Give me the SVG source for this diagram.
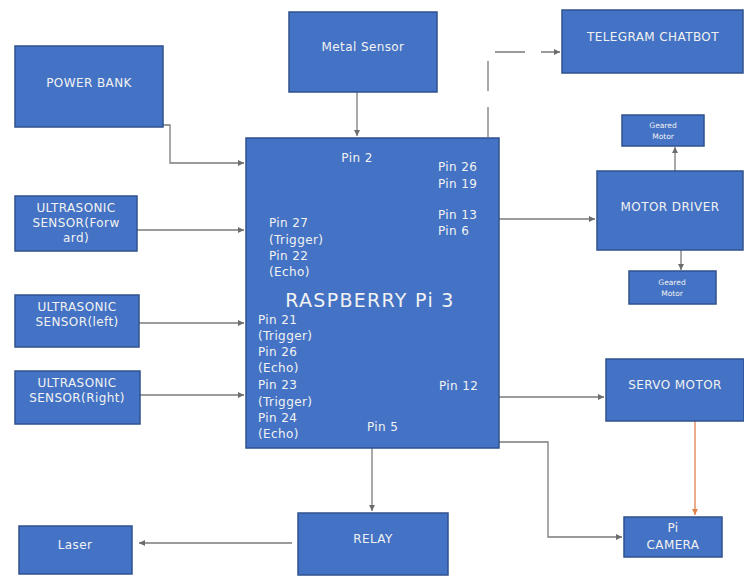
<svg xmlns="http://www.w3.org/2000/svg" width="744" height="577" viewBox="0 0 744 577">
<defs>
<marker id="arr" markerWidth="8" markerHeight="8" refX="6" refY="3" orient="auto" markerUnits="userSpaceOnUse"><path d="M0,0 L6,3 L0,6 Z" fill="#6d6d6d"/></marker>
<marker id="arrO" markerWidth="8" markerHeight="8" refX="6" refY="3" orient="auto" markerUnits="userSpaceOnUse"><path d="M0,0 L6,3 L0,6 Z" fill="#e0824a"/></marker>
<style>
.box{fill:#4472c4;stroke:#2f528f;stroke-width:1.5}
.t{fill:#f2f2f2;font-family:"DejaVu Sans","Liberation Sans",sans-serif;font-size:12px;letter-spacing:0.4px}
.c{text-anchor:middle}
.s{font-size:7.5px;letter-spacing:0}
.big{font-size:19px;letter-spacing:1.3px}
.ln{fill:none;stroke:#7a7a7a;stroke-width:1.3}
</style>
</defs>
<rect width="744" height="577" fill="#ffffff"/>
<g id="connectors">
<path class="ln" d="M163,125 H170 V163 H244" marker-end="url(#arr)"/>
<path class="ln" d="M357,92 V136" marker-end="url(#arr)"/>
<path class="ln" d="M488,137 V52 H560" stroke-dasharray="30,16" marker-end="url(#arr)"/>
<path class="ln" d="M499,219 H595" marker-end="url(#arr)"/>
<path class="ln" d="M675,171 V147" marker-end="url(#arr)"/>
<path class="ln" d="M681,250 V270" marker-end="url(#arr)"/>
<path class="ln" d="M137,230 H244" marker-end="url(#arr)"/>
<path class="ln" d="M139,323 H244" marker-end="url(#arr)"/>
<path class="ln" d="M140,395 H244" marker-end="url(#arr)"/>
<path class="ln" d="M499,397 H604" marker-end="url(#arr)"/>
<path class="ln" d="M499,442 H548 V537 H622" marker-end="url(#arr)"/>
<path d="M695,421 V515" fill="none" stroke="#e0824a" stroke-width="1.3" marker-end="url(#arrO)"/>
<path class="ln" d="M372,448 V511" marker-end="url(#arr)"/>
<path class="ln" d="M292,543 H139" marker-end="url(#arr)"/>
</g>
<g id="power-bank"><rect class="box" x="15" y="46" width="148" height="81"/><text class="t c" x="89" y="87">POWER BANK</text></g>
<g id="metal-sensor"><rect class="box" x="289" y="12" width="148" height="80"/><text class="t c" x="363" y="51">Metal Sensor</text></g>
<g id="telegram-chatbot"><rect class="box" x="562" y="10" width="181" height="63"/><text class="t c" x="653" y="41">TELEGRAM CHATBOT</text></g>
<g id="geared-motor-top"><rect class="box" x="622" y="115" width="82" height="31"/><text class="t c s" x="663" y="128">Geared</text><text class="t c s" x="663" y="139">Motor</text></g>
<g id="motor-driver"><rect class="box" x="597" y="171" width="146" height="79"/><text class="t c" x="670" y="211">MOTOR DRIVER</text></g>
<g id="geared-motor-bottom"><rect class="box" x="629" y="271" width="87" height="33"/><text class="t c s" x="672" y="285">Geared</text><text class="t c s" x="672" y="296">Motor</text></g>
<g id="ultrasonic-forward"><rect class="box" x="15" y="196" width="122" height="55"/><text class="t c" x="76" y="212">ULTRASONIC</text><text class="t c" x="76" y="227">SENSOR(Forw</text><text class="t c" x="76" y="242">ard)</text></g>
<g id="ultrasonic-left"><rect class="box" x="15" y="295" width="124" height="52"/><text class="t c" x="77" y="311">ULTRASONIC</text><text class="t c" x="77" y="326">SENSOR(left)</text></g>
<g id="ultrasonic-right"><rect class="box" x="15" y="371" width="125" height="53"/><text class="t c" x="77" y="387">ULTRASONIC</text><text class="t c" x="77" y="402">SENSOR(Right)</text></g>
<g id="raspberry-pi">
<rect class="box" x="246" y="138" width="253" height="310"/>
<text class="t c" x="357" y="162">Pin 2</text>
<text class="t" x="438" y="171">Pin 26</text>
<text class="t" x="438" y="188">Pin 19</text>
<text class="t" x="438" y="219">Pin 13</text>
<text class="t" x="438" y="235">Pin 6</text>
<text class="t" x="269" y="227">Pin 27</text>
<text class="t" x="269" y="244">(Trigger)</text>
<text class="t" x="269" y="260">Pin 22</text>
<text class="t" x="269" y="276">(Echo)</text>
<text class="t c big" x="370" y="307">RASPBERRY Pi 3</text>
<text class="t" x="258" y="324">Pin 21</text>
<text class="t" x="258" y="340">(Trigger)</text>
<text class="t" x="258" y="356">Pin 26</text>
<text class="t" x="258" y="372">(Echo)</text>
<text class="t" x="258" y="389">Pin 23</text>
<text class="t" x="258" y="406">(Trigger)</text>
<text class="t" x="258" y="422">Pin 24</text>
<text class="t" x="258" y="438">(Echo)</text>
<text class="t" x="439" y="390">Pin 12</text>
<text class="t" x="367" y="431">Pin 5</text>
</g>
<g id="servo-motor"><rect class="box" x="606" y="359" width="138" height="62"/><text class="t c" x="675" y="389">SERVO MOTOR</text></g>
<g id="pi-camera"><rect class="box" x="624" y="517" width="98" height="40"/><text class="t c" x="673" y="532">Pi</text><text class="t c" x="673" y="549">CAMERA</text></g>
<g id="relay"><rect class="box" x="298" y="513" width="150" height="62"/><text class="t c" x="373" y="543">RELAY</text></g>
<g id="laser"><rect class="box" x="19" y="526" width="113" height="48"/><text class="t c" x="75" y="549">Laser</text></g>
</svg>
